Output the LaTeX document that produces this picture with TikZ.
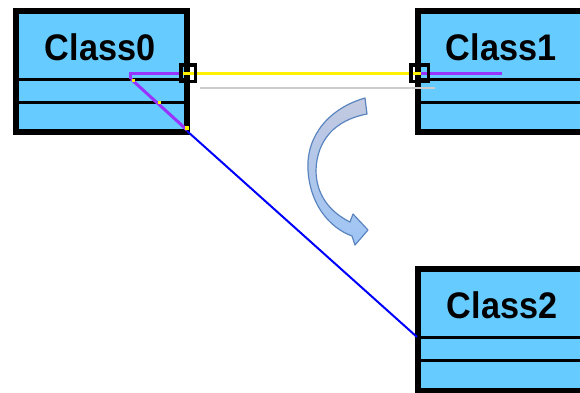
\documentclass[tikz,border=0pt]{standalone}
\usepackage{fontspec}
\setmainfont{Liberation Sans}
\usepackage{graphicx}
\definecolor{clsfill}{HTML}{66CCFF}
\definecolor{selpurple}{HTML}{9933FF}
\definecolor{arrowedge}{HTML}{5A84C0}
\definecolor{arrowtop}{HTML}{C3C9E0}
\definecolor{arrowbot}{HTML}{9EC5F5}
\definecolor{ghost}{HTML}{CCCCCC}
\begin{document}
\begin{tikzpicture}[x=1pt,y=-1pt,
  classbox/.style={draw=black, line width=6pt, fill=clsfill, inner sep=0pt},
  divider/.style={line width=3pt},
  classname/.style={font=\fontsize{37}{40}\selectfont\bfseries, anchor=base, inner sep=0pt},
  handle/.style={draw=black, line width=3.5pt, inner sep=0pt},
  selline/.style={draw=selpurple, line width=3pt},
  hiline/.style={draw=yellow, line width=3pt},
  assoc/.style={draw=blue, line width=2pt},
  ghostline/.style={draw=ghost, line width=2pt}]
\useasboundingbox (0,0) rectangle (580,392);
\clip (0,0) rectangle (580,392);

% classes
\node[classbox, minimum width=171pt, minimum height=121pt] (c0) at (101.5,71.5) {};
\node[classbox, minimum width=222pt, minimum height=121pt] (c1) at (529,71.5) {};
\node[classbox, minimum width=222pt, minimum height=122pt] (c2) at (529,330) {};

\draw[divider] (c0.west |- 0,79.5) -- (c0.east |- 0,79.5);
\draw[divider] (c0.west |- 0,102.5) -- (c0.east |- 0,102.5);
\draw[divider] (c1.west |- 0,79.5) -- (c1.east |- 0,79.5);
\draw[divider] (c1.west |- 0,102.5) -- (c1.east |- 0,102.5);
\draw[divider] (c2.west |- 0,337) -- (c2.east |- 0,337);
\draw[divider] (c2.west |- 0,360.5) -- (c2.east |- 0,360.5);

\node[classname] (t0) at (100,60) {\scalebox{0.925}[1]{Class0}};
\node[classname] (t1) at (501,60) {\scalebox{0.925}[1]{Class1}};
\node[classname] (t2) at (502,318) {\scalebox{0.925}[1]{Class2}};

% connector end points
\coordinate (a0) at (187,131);
\coordinate (a2) at (417,337);
\coordinate (p0) at (130,79);
\coordinate (p1) at (130,73);
\coordinate (p2) at (183,73);
\coordinate (d1) at (187,130);
\coordinate (q1) at (421,73);
\coordinate (q2) at (502,73);
\coordinate (g0) at (200,88);
\coordinate (g1) at (435,88);

% handles (positions)
\node[handle, minimum width=14.5pt, minimum height=16.5pt] (h0) at (188,73) {};
\node[handle, minimum width=17.5pt, minimum height=16.5pt] (h1) at (419.5,73) {};

% association line
\draw[assoc] (a0) -- (a2);
% ghost line
\draw[ghostline] (g0) -- (g1);
% selection outline
\draw[selline] (p0) -- (p1) -- (p2);
\draw[selline] (131,79) -- (d1);
\draw[selline] (q1) -- (q2);
\draw[hiline] (p2) -- (q1);
\fill[yellow] (131.5,78.5) rectangle (134.5,81.5);
\fill[yellow] (157.5,100.5) rectangle (160.5,103.5);
\fill[yellow] (184.5,125.5) rectangle (188.5,130);

% handles drawn on top
\node[handle, minimum width=14.5pt, minimum height=16.5pt] at (h0) {};
\node[handle, minimum width=17.5pt, minimum height=16.5pt] at (h1) {};

% curved arrow
\shade[top color=arrowtop, bottom color=arrowbot, draw=arrowedge, line width=1.2pt, line join=round]
  (365,98) .. controls (330,108) and (306,135) .. (308,170)
  .. controls (310,205) and (330,228) .. (352,236)
  -- (355,245) -- (368,230) -- (353,214) -- (350,222)
  .. controls (330,212) and (316,195) .. (316,170)
  .. controls (317,140) and (335,120) .. (367,114) -- cycle;
\end{tikzpicture}
\end{document}
